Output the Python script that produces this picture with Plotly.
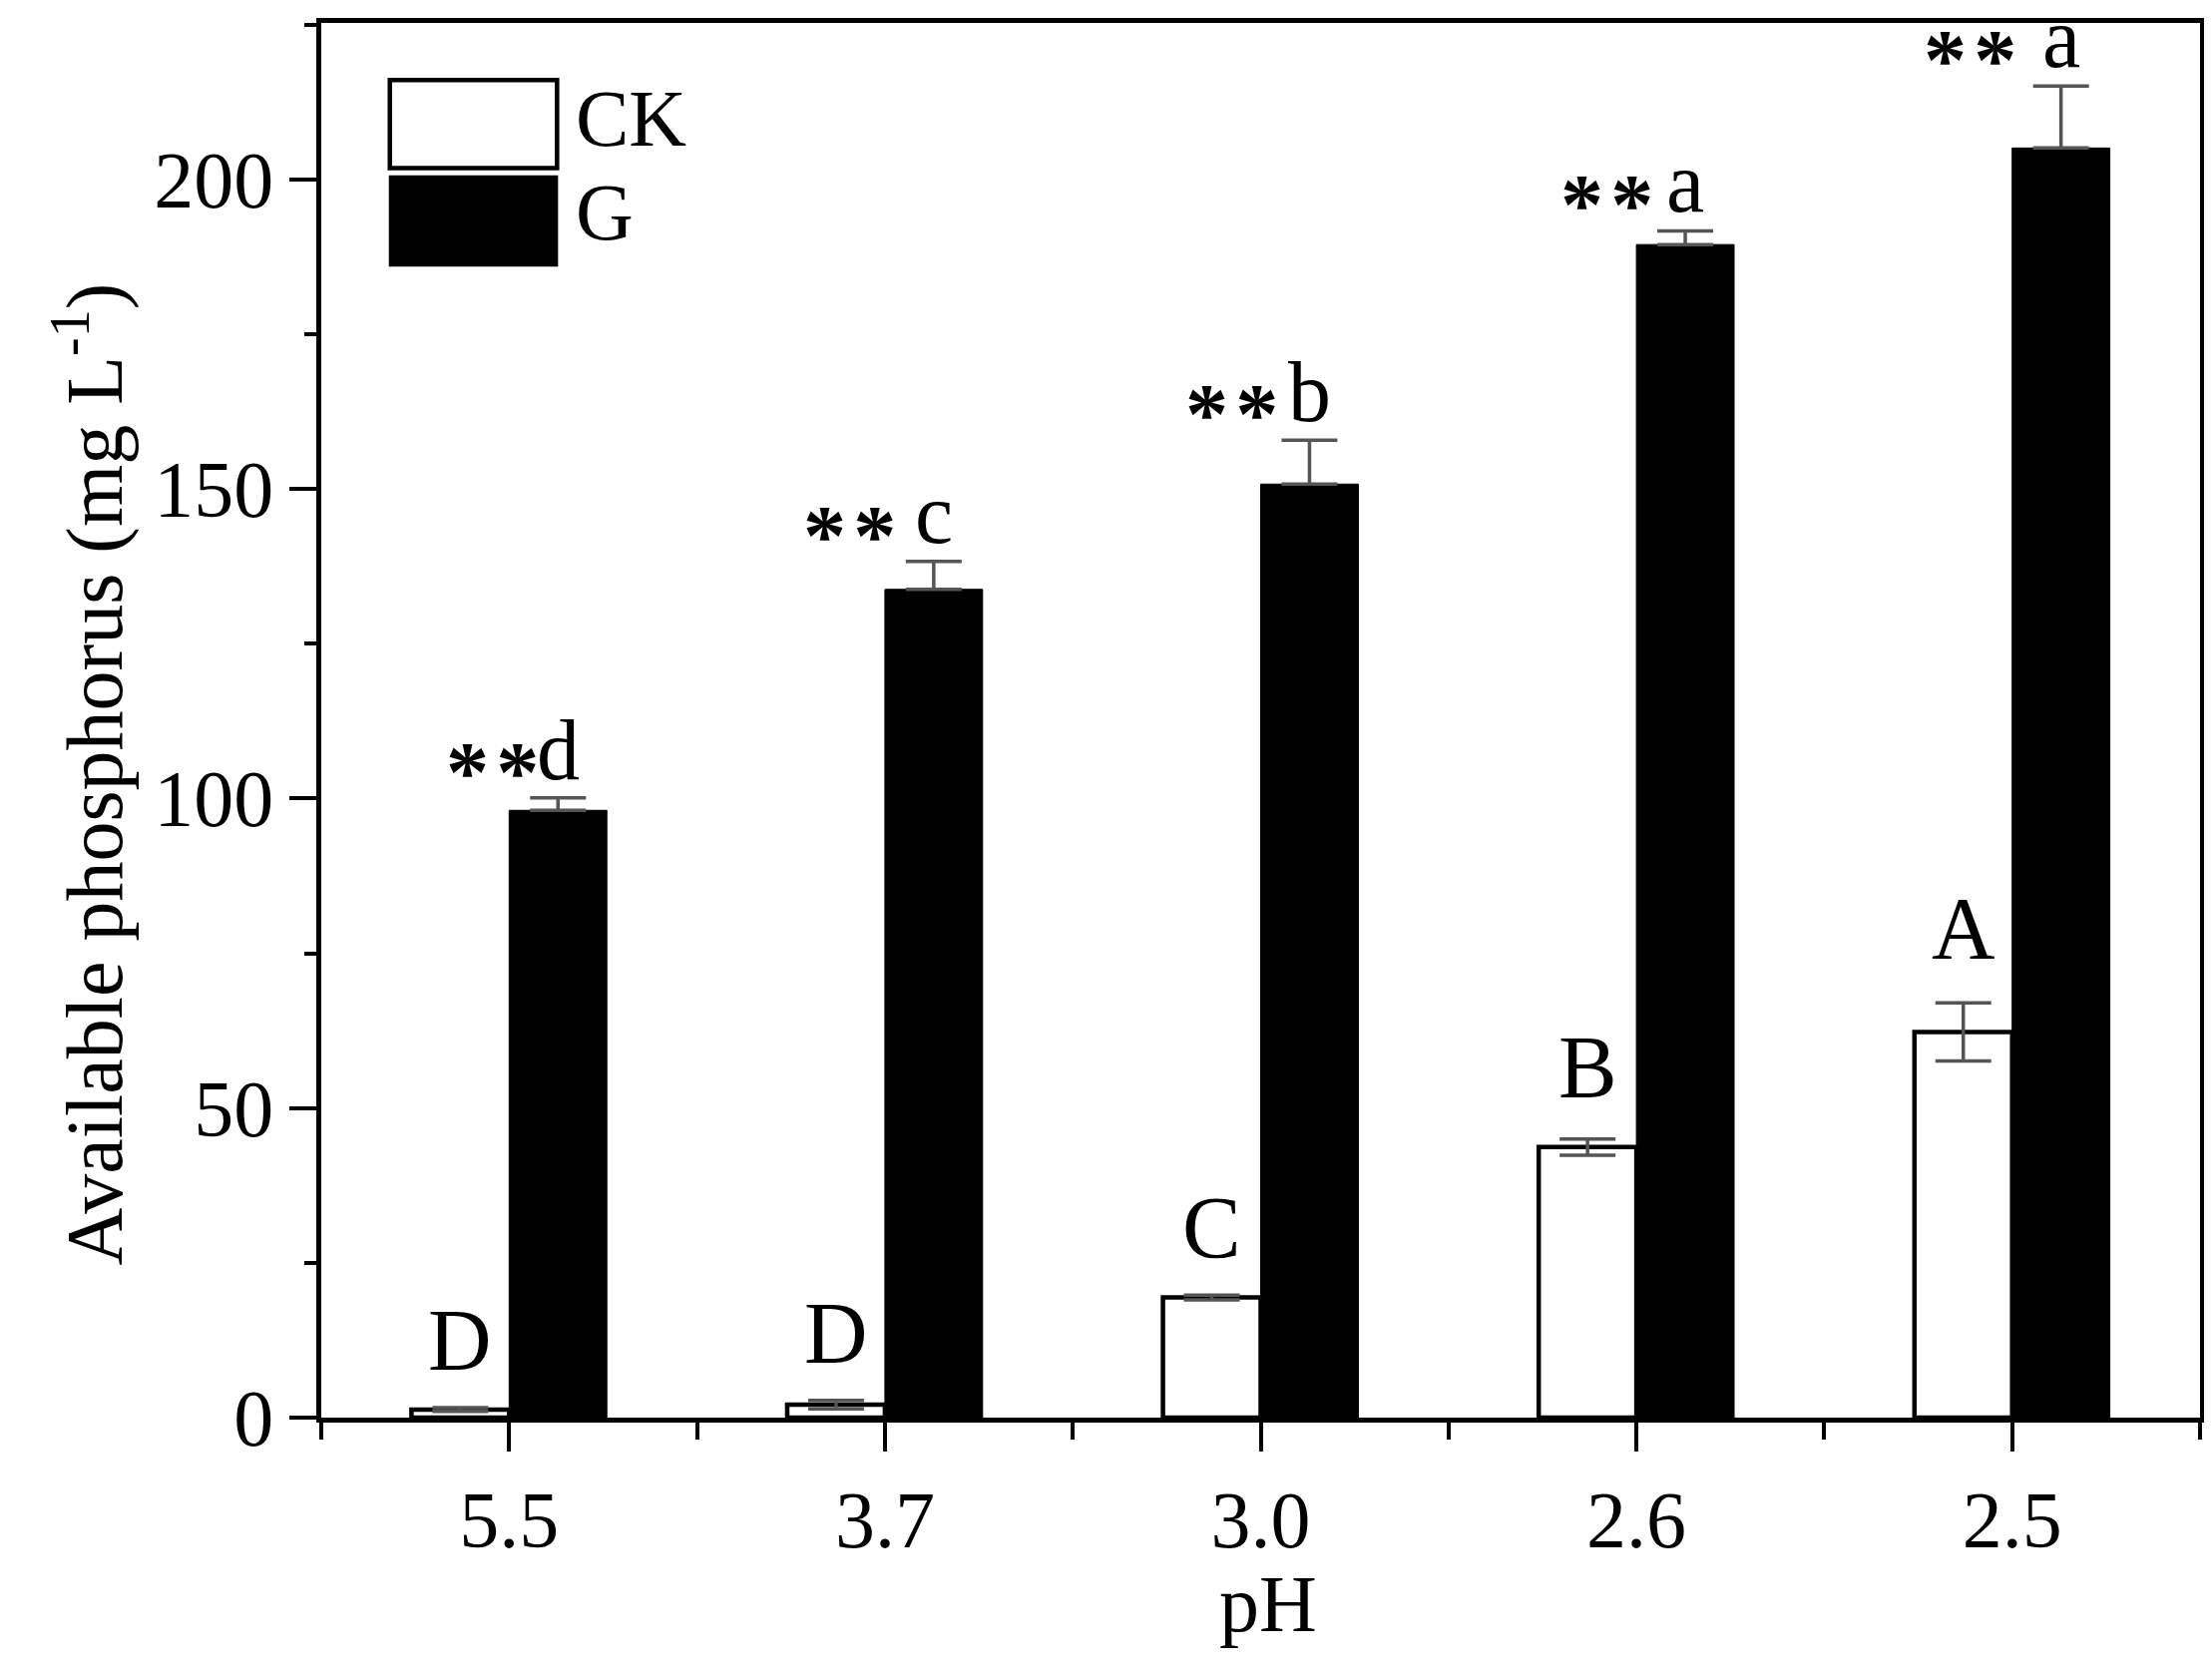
import plotly.graph_objects as go

# ---- data ----
ph_labels = ["5.5", "3.7", "3.0", "2.6", "2.5"]
ck_values = [1.3, 2.1, 19.4, 43.7, 62.3]
ck_errors = [0.3, 0.7, 0.4, 1.3, 4.7]
g_values = [98.1, 133.8, 150.8, 189.5, 205.1]
g_errors = [2.0, 4.5, 7.1, 2.2, 10.0]
ck_letters = ["D", "D", "C", "B", "A"]
g_letters = ["d", "c", "b", "a", "a"]
g_stars = ["**", "**", "**", "**", "**"]

FONT = "Liberation Serif"
W, H = 2217, 1679
ML, MR, MT, MB = 314, 20, 15, 266

xpos = list(range(len(ph_labels)))
BARGAP = 0.48
half_w = (1 - BARGAP) / 4  # centre offset of each bar in a group

fig = go.Figure()
fig.add_trace(go.Bar(
    name="CK", x=xpos, y=ck_values,
    marker=dict(color="white", line=dict(color="black", width=4.5)),
    error_y=dict(type="data", array=ck_errors, symmetric=True,
                 color="#555555", thickness=3.5, width=28),
    showlegend=False,
))
fig.add_trace(go.Bar(
    name="G", x=xpos, y=g_values,
    marker=dict(color="black", line=dict(color="black", width=1)),
    error_y=dict(type="data", array=g_errors, arrayminus=[0] * len(g_errors),
                 symmetric=False, color="#555555", thickness=3.5, width=28),
    showlegend=False,
))

annotations = []
# CK significance letters
ck_yshift = [17, 17, 17, 22, 24]
for i, (v, e, t) in enumerate(zip(ck_values, ck_errors, ck_letters)):
    annotations.append(dict(
        x=i - half_w, y=v + e, xref="x", yref="y", text=t, showarrow=False,
        xanchor="center", yanchor="bottom", yshift=ck_yshift[i],
        font=dict(family=FONT, size=88, color="black")))
# G significance letters and stars
star_xshift = [-66, -84, -78, -79, -91]
for i, (v, e, t, s) in enumerate(zip(g_values, g_errors, g_letters, g_stars)):
    annotations.append(dict(
        x=i + half_w, y=v + e, xref="x", yref="y", text=t, showarrow=False,
        xanchor="center", yanchor="bottom", yshift=-2,
        font=dict(family=FONT, size=86, color="black")))
    annotations.append(dict(
        x=i + half_w, y=v + e, xref="x", yref="y",
        text="<b>" + s[0] + "\u200a" + s[1] + "</b>",
        showarrow=False, xanchor="center", yanchor="bottom",
        xshift=star_xshift[i], yshift=-24,
        font=dict(family=FONT, size=86, color="black")))

# axis titles
annotations.append(dict(
    x=-0.1237, y=0.461, xref="paper", yref="paper",
    text="Available phosphorus (mg L<sup>-1</sup>)", textangle=-90,
    showarrow=False, xanchor="center", yanchor="middle",
    font=dict(family=FONT, size=80, color="black")))
annotations.append(dict(
    x=0.504, y=-0.134, xref="paper", yref="paper", text="pH",
    showarrow=False, xanchor="center", yanchor="middle",
    font=dict(family=FONT, size=80, color="black")))

# legend (drawn manually to match the large swatches)
annotations.append(dict(
    x=0.1345, y=0.931, xref="paper", yref="paper", text="CK", showarrow=False,
    xanchor="left", yanchor="middle", font=dict(family=FONT, size=80, color="black")))
annotations.append(dict(
    x=0.1345, y=0.864, xref="paper", yref="paper", text="G", showarrow=False,
    xanchor="left", yanchor="middle", font=dict(family=FONT, size=80, color="black")))

shapes = [
    dict(type="rect", xref="paper", yref="paper", x0=0.0365, x1=0.1255,
         y0=0.896, y1=0.959, fillcolor="white", line=dict(color="black", width=4.5)),
    dict(type="rect", xref="paper", yref="paper", x0=0.0365, x1=0.1255,
         y0=0.826, y1=0.890, fillcolor="black", line=dict(color="black", width=2)),
]

fig.update_layout(
    width=W, height=H,
    margin=dict(l=ML, r=MR, t=MT, b=MB),
    paper_bgcolor="white", plot_bgcolor="white",
    barmode="group", bargap=BARGAP, bargroupgap=0,
    font=dict(family=FONT, size=80, color="black"),
    annotations=annotations, shapes=shapes,
    xaxis=dict(
        range=[-0.5, 4.5], tickmode="array", tickvals=xpos, ticktext=ph_labels,
        ticks="outside", ticklen=29, tickwidth=4, tickcolor="black",
        showline=True, linecolor="black", linewidth=4.5, mirror=True,
        showgrid=False, zeroline=False, automargin=False,
        tickfont=dict(family=FONT, size=80, color="black"),
        minor=dict(tickmode="array", tickvals=[k - 0.5 for k in range(len(ph_labels) + 1)],
                   ticks="outside", ticklen=17, tickwidth=4, tickcolor="black",
                   showgrid=False),
    ),
    yaxis=dict(
        range=[0, 225.3], tickmode="array", tickvals=[0, 50, 100, 150, 200],
        ticks="outside", ticklen=27, tickwidth=4, tickcolor="black",
        showline=True, linecolor="black", linewidth=4.5, mirror=True,
        showgrid=False, zeroline=False, automargin=False,
        tickfont=dict(family=FONT, size=80, color="black"),
        minor=dict(dtick=25, tick0=0, ticks="outside", ticklen=12, tickwidth=4,
                   tickcolor="black", showgrid=False),
    ),
)

fig.write_html("out.html")
